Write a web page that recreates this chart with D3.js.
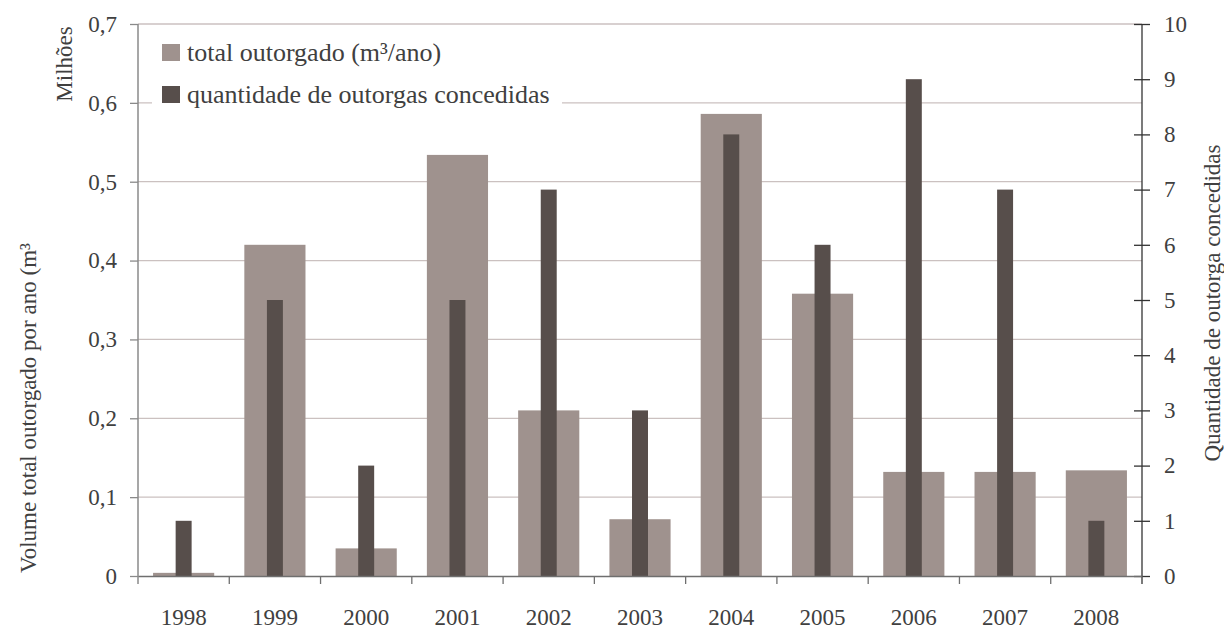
<!DOCTYPE html>
<html>
<head>
<meta charset="utf-8">
<script src="https://cdn.jsdelivr.net/npm/d3@7"></script>
<style>
  body { margin: 0; background: #fff; }
  svg text { font-family: "Liberation Serif"; }
</style>
</head>
<body>
<div id="chart"></div>
<script>
// data
const years = ["1998", "1999", "2000", "2001", "2002", "2003", "2004", "2005", "2006", "2007", "2008"];
const volume = [0.004, 0.42, 0.035, 0.534, 0.21, 0.072, 0.586, 0.358, 0.132, 0.132, 0.134]; // milhões m³/ano
const outorgas = [1, 5, 2, 5, 7, 3, 8, 6, 9, 7, 1];
const leftTicks = [0, 0.1, 0.2, 0.3, 0.4, 0.5, 0.6, 0.7];
const rightTicks = [0, 1, 2, 3, 4, 5, 6, 7, 8, 9, 10];

const W = 1224, H = 630;
const margin = {top: 24, right: 82, bottom: 54, left: 138};
const width = W - margin.left - margin.right,
      height = H - margin.top - margin.bottom;

const svg = d3.select("#chart").append("svg")
    .attr("width", W).attr("height", H)
    .attr("font-family", "Liberation Serif");
const g = svg.append("g")
    .attr("transform", `translate(${margin.left},${margin.top})`);

const x = d3.scaleBand().domain(years).range([0, width]);
const yL = d3.scaleLinear().domain([0, 0.7]).range([height, 0]);
const yR = d3.scaleLinear().domain([0, 10]).range([height, 0]);

// gridlines
g.selectAll(".grid")
  .data(leftTicks.slice(1))
  .join("line")
    .attr("x1", 0).attr("x2", width)
    .attr("y1", d => yL(d)).attr("y2", d => yL(d))
    .attr("stroke", "#cbc1c0").attr("stroke-width", 1.3);

// bars
const bw = x.bandwidth();
g.selectAll(".vol")
  .data(years)
  .join("rect")
    .attr("x", (d) => x(d) + bw * 0.165)
    .attr("width", bw * 0.67)
    .attr("y", (d, i) => yL(volume[i]))
    .attr("height", (d, i) => height - yL(volume[i]))
    .attr("fill", "#9f928e");

g.selectAll(".qt")
  .data(years)
  .join("rect")
    .attr("x", (d) => x(d) + bw * 0.5 - bw * 0.0875)
    .attr("width", bw * 0.175)
    .attr("y", (d, i) => yR(outorgas[i]))
    .attr("height", (d, i) => height - yR(outorgas[i]))
    .attr("fill", "#574e4b");

// left axis
const axL = g.append("g")
  .call(d3.axisLeft(yL).tickValues(leftTicks).tickSize(8).tickPadding(13)
        .tickFormat(d => d3.format(".1~f")(d).replace(".", ",")));
axL.select(".domain").remove();
axL.selectAll("line").attr("stroke", "#8a8a8a").attr("stroke-width", 1.3);
g.append("line").attr("x1", 0).attr("x2", 0).attr("y1", 0).attr("y2", height + 8)
  .attr("stroke", "#8a8a8a").attr("stroke-width", 1.5);

// right axis
const axR = g.append("g")
  .attr("transform", `translate(${width},0)`)
  .call(d3.axisRight(yR).tickValues(rightTicks).tickSize(8).tickPadding(14));
axR.select(".domain").remove();
axR.selectAll("line").attr("x1", -8).attr("stroke", "#333").attr("stroke-width", 1.3);
g.append("line").attr("x1", width).attr("x2", width).attr("y1", 0).attr("y2", height + 8)
  .attr("stroke", "#333").attr("stroke-width", 1.3);

// bottom axis
const axB = g.append("g")
  .attr("transform", `translate(0,${height})`)
  .call(d3.axisBottom(x).tickSize(0).tickPadding(33));
axB.select(".domain").attr("stroke", "#6f6f6f").attr("stroke-width", 1.5);
g.append("g").selectAll("line")
  .data(years.slice(1))
  .join("line")
    .attr("x1", d => x(d)).attr("x2", d => x(d))
    .attr("y1", height).attr("y2", height + 8)
    .attr("stroke", "#6f6f6f").attr("stroke-width", 1.3);

[axL, axR, axB].forEach(a => a.attr("font-family", null)
  .selectAll("text").attr("font-size", 23));

// axis titles
svg.append("text")
  .attr("transform", "translate(36,573) rotate(-90)")
  .attr("text-anchor", "start")
  .attr("font-size", 23)
  .text("Volume total outorgado por ano (m³");
svg.append("text")
  .attr("transform", "translate(72,64) rotate(-90)")
  .attr("text-anchor", "middle")
  .attr("font-size", 23)
  .text("Milhões");
svg.append("text")
  .attr("transform", "translate(1220,303) rotate(-90)")
  .attr("text-anchor", "middle")
  .attr("font-size", 23)
  .text("Quantidade de outorga concedidas");

// legend
const legendItems = [
  {label: "total outorgado (m³/ano)", color: "#9f928e"},
  {label: "quantidade de outorgas concedidas", color: "#574e4b"}
];
const leg = svg.append("g").attr("transform", "translate(152,30)");
leg.append("rect").attr("width", 410).attr("height", 82).attr("fill", "#fff");
const li = leg.selectAll(".li").data(legendItems).join("g")
  .attr("transform", (d, i) => `translate(10,${14 + i * 42})`);
li.append("rect").attr("width", 18).attr("height", 17).attr("fill", d => d.color);
li.append("text").attr("x", 25).attr("y", 17).attr("font-size", 26).text(d => d.label);

svg.selectAll("text")
  .style("font-family", "Liberation Serif")
  .attr("fill", "#404040");
</script>
</body>
</html>
